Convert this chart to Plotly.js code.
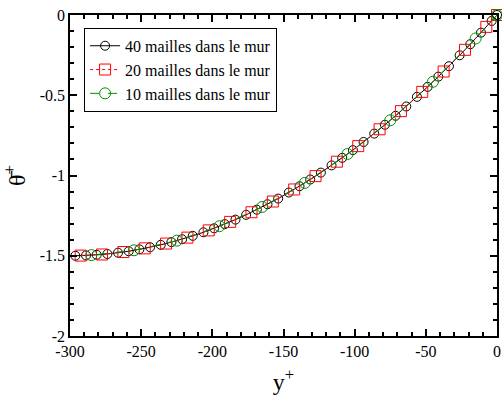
<!DOCTYPE html>
<html>
<head>
<meta charset="utf-8">
<script src="https://cdn.plot.ly/plotly-3.0.1.min.js"></script>
<style>html,body{margin:0;padding:0;background:#fff;}#chart{width:502px;height:405px;}</style>
</head>
<body>
<div id="chart"></div>
<script>
// 40 mailles
const x40 = [0, -3.75, -11.25, -18.75, -26.25, -33.75, -41.25, -48.75, -56.25, -63.75, -71.25, -78.75, -86.25, -93.75, -101.25, -108.75, -116.25, -123.75, -131.25, -138.75, -146.25, -153.75, -161.25, -168.75, -176.25, -183.75, -191.25, -198.75, -206.25, -213.75, -221.25, -228.75, -236.25, -243.75, -251.25, -258.75, -266.25, -273.75, -281.25, -288.75, -296.25];
const t40 = [0, -0.037, -0.110, -0.182, -0.251, -0.319, -0.384, -0.448, -0.510, -0.570, -0.628, -0.684, -0.739, -0.791, -0.842, -0.890, -0.937, -0.982, -1.025, -1.067, -1.106, -1.144, -1.179, -1.213, -1.245, -1.275, -1.303, -1.329, -1.354, -1.376, -1.397, -1.415, -1.432, -1.447, -1.460, -1.472, -1.481, -1.489, -1.494, -1.498, -1.500];
// 20 mailles
const x20 = [0, -7.5, -22.5, -37.5, -52.5, -67.5, -82.5, -97.5, -112.5, -127.5, -142.5, -157.5, -172.5, -187.5, -202.5, -217.5, -232.5, -247.5, -262.5, -277.5, -292.5];
const t20 = [0, -0.074, -0.217, -0.352, -0.479, -0.599, -0.712, -0.817, -0.914, -1.004, -1.087, -1.162, -1.229, -1.289, -1.342, -1.387, -1.424, -1.454, -1.477, -1.492, -1.499];
// 10 mailles
const x10 = [0, -15, -45, -75, -105, -135, -165, -195, -225, -255, -285];
const t10 = [0, -0.146, -0.416, -0.656, -0.866, -1.046, -1.196, -1.316, -1.406, -1.466, -1.496];

const xTickVals = [-300, -250, -200, -150, -100, -50, 0];
const xTickText = ['-300', '-250', '-200', '-150', '-100', '-50', '0'];
const yTickVals = [-2, -1.5, -1, -0.5, 0];
const yTickText = ['-2', '-1.5', '-1', '-0.5', '0'];
const xMinorVals = [-290, -280, -270, -260, -240, -230, -220, -210, -190, -180, -170, -160, -140, -130, -120, -110, -90, -80, -70, -60, -40, -30, -20, -10];
const yMinorVals = [-1.9, -1.8, -1.7, -1.6, -1.4, -1.3, -1.2, -1.1, -0.9, -0.8, -0.7, -0.6, -0.4, -0.3, -0.2, -0.1];

const seriesNames = ['40 mailles dans le mur', '20 mailles dans le mur', '10 mailles dans le mur'];

const FAM = 'Liberation Serif';

const data = [
  {x: x40, y: t40, name: seriesNames[0], mode: 'lines+markers', cliponaxis: false,
   line: {color: '#000', width: 1}, marker: {symbol: 'circle-open', size: 9, color: '#000', line: {width: 1}}},
  {x: x20, y: t20, name: seriesNames[1], mode: 'lines+markers', cliponaxis: false,
   line: {color: '#f00', width: 1, dash: 'dot'}, marker: {symbol: 'square-open', size: 11, color: '#f00', line: {width: 1}}},
  {x: x10, y: t10, name: seriesNames[2], mode: 'lines+markers', cliponaxis: false,
   line: {color: '#009000', width: 1, dash: 'dash'}, marker: {symbol: 'circle-open', size: 11, color: '#009000', line: {width: 1}}}
];

const layout = {
  width: 502, height: 405,
  margin: {l: 70, r: 5, t: 15, b: 69},
  paper_bgcolor: '#fff', plot_bgcolor: '#fff',
  font: {family: FAM, size: 16, color: '#000'},
  showlegend: true,
  legend: {x: 0.033, y: 0.96, bordercolor: '#000', borderwidth: 1, font: {family: FAM, size: 16, color: '#000'}},
  xaxis: {range: [-300, 0], tickmode: 'array', tickvals: xTickVals, ticktext: xTickText,
    ticks: 'inside', ticklen: 7, tickwidth: 1.5, tickcolor: '#000', showline: true, linecolor: '#000', linewidth: 1.5, mirror: 'allticks', showgrid: false, zeroline: false,
    minor: {tickmode: 'array', tickvals: xMinorVals, ticks: 'inside', ticklen: 4, tickwidth: 1.5, tickcolor: '#000', showgrid: false},
    tickfont: {family: FAM, size: 16, color: '#000'},
    title: {text: 'y<sup>+</sup>', font: {family: FAM, size: 24, color: '#000'}, standoff: 14}},
  yaxis: {range: [-2, 0], tickmode: 'array', tickvals: yTickVals, ticktext: yTickText,
    ticks: 'inside', ticklen: 7, tickwidth: 1.5, tickcolor: '#000', showline: true, linecolor: '#000', linewidth: 1.5, mirror: 'allticks', showgrid: false, zeroline: false,
    minor: {tickmode: 'array', tickvals: yMinorVals, ticks: 'inside', ticklen: 4, tickwidth: 1.5, tickcolor: '#000', showgrid: false},
    tickfont: {family: FAM, size: 16, color: '#000'},
    title: {text: 'θ\u0304<sup>+</sup>', font: {family: FAM, size: 24, color: '#000'}, standoff: 12}}
};

Plotly.newPlot('chart', [data[0]], layout, {displayModeBar: false}).then(function (gd) {
  return Plotly.addTraces(gd, [data[1], data[2]]);
});
</script>
</body>
</html>
